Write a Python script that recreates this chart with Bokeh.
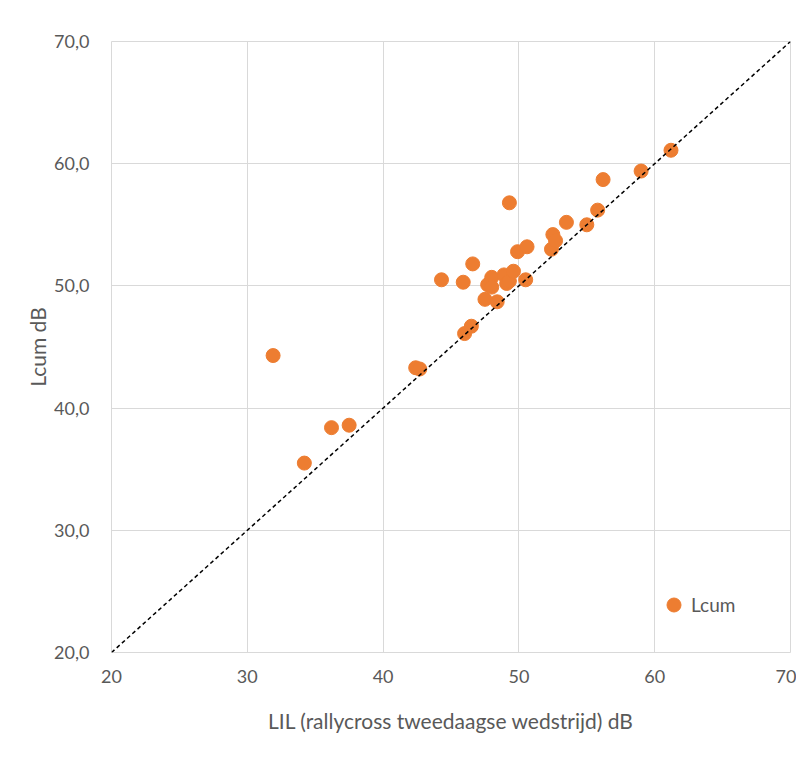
from bokeh.plotting import figure
from bokeh.models import Slope, Range1d, FixedTicker, CustomJSTickFormatter, Legend, LegendItem
from bokeh.embed import file_html
from bokeh.resources import INLINE

# Data
lil = [31.9, 34.2, 36.2, 37.5, 42.4, 42.7, 44.3, 45.9, 46.0, 46.5, 46.6, 47.5, 47.7, 48.0, 48.0,
       48.4, 48.9, 49.1, 49.3, 49.3, 49.6, 49.9, 50.5, 50.6, 52.4, 52.5, 52.7, 53.5, 55.0, 55.8,
       56.2, 59.0, 61.2]
lcum = [44.3, 35.5, 38.4, 38.6, 43.3, 43.2, 50.5, 50.3, 46.1, 46.7, 51.8, 48.9, 50.1, 50.7, 49.9,
        48.7, 50.9, 50.2, 50.4, 56.8, 51.2, 52.8, 50.5, 53.2, 53.0, 54.2, 53.7, 55.2, 55.0, 56.2,
        58.7, 59.4, 61.1]
x_ticks = [20, 30, 40, 50, 60, 70]
y_ticks = [20, 30, 40, 50, 60, 70]
series_name = "Lcum"
x_title = "LIL (rallycross tweedaagse wedstrijd) dB"
y_title = "Lcum dB"

FONT = "Lato"
GREY = "#595959"
GRID = "#d9d9d9"
ORANGE = "#ED7D31"

p = figure(width=796, height=757, output_backend="svg", toolbar_location=None,
           x_range=Range1d(20, 70), y_range=Range1d(20, 70),
           min_border_left=111, min_border_right=6, min_border_top=41, min_border_bottom=105)

p.outline_line_color = GRID
p.background_fill_color = "white"
p.border_fill_color = "white"

for ax in (p.xaxis[0], p.yaxis[0]):
    ax.axis_line_color = None
    ax.major_tick_line_color = None
    ax.minor_tick_line_color = None
    ax.major_label_text_font = FONT
    ax.major_label_text_font_size = "18px"
    ax.major_label_text_color = GREY
    ax.axis_label_text_font = FONT
    ax.axis_label_text_font_size = "21px"
    ax.axis_label_text_color = GREY
    ax.axis_label_text_font_style = "normal"

p.xaxis.ticker = FixedTicker(ticks=x_ticks)
p.yaxis.ticker = FixedTicker(ticks=y_ticks)
p.yaxis.formatter = CustomJSTickFormatter(code="return tick.toFixed(1).replace('.', ',');")
p.xaxis.major_label_standoff = 11
p.yaxis.major_label_standoff = 16
p.xaxis.axis_label = x_title
p.yaxis.axis_label = y_title
p.xaxis.axis_label_standoff = 22
p.yaxis.axis_label_standoff = 1

p.xgrid.ticker = FixedTicker(ticks=x_ticks)
p.ygrid.ticker = FixedTicker(ticks=y_ticks)
p.xgrid.grid_line_color = GRID
p.ygrid.grid_line_color = GRID

p.add_layout(Slope(gradient=1, y_intercept=0, line_color="black", line_width=1.5, line_dash="4 3"))

r = p.scatter(lil, lcum, size=14, marker="circle", fill_color=ORANGE, line_color=ORANGE)

legend = Legend(items=[LegendItem(label=series_name, renderers=[r])],
                location=(545, 30), orientation="horizontal",
                background_fill_alpha=0, border_line_color=None,
                padding=0, margin=0, glyph_width=35, glyph_height=35, label_standoff=0,
                label_text_font=FONT, label_text_font_size="19px", label_text_color=GREY)
p.add_layout(legend)

open("out.html", "w").write(file_html(p, INLINE))
